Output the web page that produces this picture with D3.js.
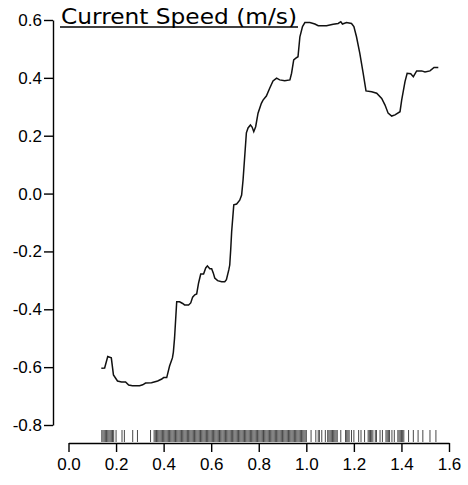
<!DOCTYPE html>
<html><head><meta charset="utf-8">
<script src="https://cdn.jsdelivr.net/npm/d3@7"></script>
<style>body{margin:0;background:#fff}</style></head>
<body><svg id="c" width="468" height="485"></svg>
<script>
const lineX=[.138,.152,.165,.180,.189,.206,.223,.240,.253,.269,.299,.312,.324,.349,.375,.392,.400,.413,.425,.437,.441,.446,.455,.467,.480,.488,.505,.514,.522,.531,.539,.547,.556,.568,.577,.584,.594,.602,.609,.615,.627,.644,.657,.664,.674,.678,.682,.686,.695,.707,.720,.728,.734,.748,.755,.765,.772,.779,.787,.797,.811,.818,.832,.846,.860,.875,.888,.909,.931,.938,.947,.956,.965,.973,.984,.994,1.015,1.036,1.050,1.085,1.113,1.134,1.145,1.152,1.169,1.190,1.200,1.211,1.225,1.239,1.251,1.275,1.296,1.317,1.331,1.344,1.359,1.373,1.394,1.401,1.415,1.424,1.439,1.450,1.464,1.485,1.499,1.520,1.537,1.555];
const lineY=[-.604,-.603,-.563,-.568,-.627,-.648,-.651,-.651,-.662,-.664,-.664,-.661,-.655,-.654,-.648,-.641,-.636,-.636,-.596,-.568,-.548,-.499,-.374,-.374,-.380,-.385,-.385,-.378,-.358,-.350,-.347,-.309,-.278,-.278,-.257,-.250,-.260,-.260,-.275,-.292,-.301,-.305,-.305,-.298,-.264,-.247,-.195,-.133,-.039,-.036,-.023,-.005,.047,.210,.227,.237,.230,.214,.231,.278,.312,.323,.337,.364,.389,.399,.393,.390,.393,.416,.462,.468,.473,.542,.577,.591,.591,.586,.580,.580,.585,.588,.594,.586,.591,.588,.577,.542,.485,.416,.355,.352,.347,.329,.306,.278,.268,.272,.283,.323,.387,.416,.414,.404,.424,.424,.420,.424,.436,.436];
const rugX=[.14,.145,.15,.155,.16,.165,.17,.175,.18,.185,.19,.2,.225,.235,.27,.29,.345,.36,.365,.37,.375,.38,.385,.39,.395,.40,.405,.41,.415,.42,.425,.43,.435,.44,.445,.45,.455,.46,.465,.47,.475,.48,.485,.49,.495,.50,.505,.51,.515,.52,.525,.53,.535,.54,.545,.55,.555,.56,.565,.57,.575,.58,.585,.59,.595,.60,.605,.61,.615,.62,.625,.63,.635,.64,.645,.65,.655,.66,.665,.67,.675,.68,.685,.69,.695,.70,.705,.71,.715,.72,.725,.73,.735,.74,.745,.75,.755,.76,.765,.77,.775,.78,.785,.79,.795,.80,.805,.81,.815,.82,.825,.83,.835,.84,.845,.85,.855,.86,.865,.87,.875,.88,.885,.89,.895,.90,.905,.91,.915,.92,.925,.93,.935,.94,.945,.95,.955,.96,.965,.97,.975,.98,.985,.99,.995,1.0,1.02,1.04,1.05,1.055,1.065,1.08,1.09,1.095,1.10,1.105,1.11,1.115,1.12,1.125,1.13,1.145,1.165,1.17,1.175,1.18,1.19,1.2,1.22,1.23,1.245,1.26,1.265,1.27,1.275,1.28,1.29,1.295,1.31,1.32,1.335,1.34,1.345,1.35,1.36,1.37,1.385,1.39,1.395,1.40,1.405,1.41,1.43,1.45,1.47,1.49,1.52,1.545];
const xTicks=[0,0.2,0.4,0.6,0.8,1.0,1.2,1.4,1.6];
const yTicks=[-0.8,-0.6,-0.4,-0.2,0,0.2,0.4,0.6];
const title="Current Speed (m/s)";

const svg=d3.select("#c");
const x=d3.scaleLinear().domain([0,1.6]).range([68.5,449]);
const y=d3.scaleLinear().domain([-0.8,0.6]).range([425,20]);
const font="Liberation Sans, Arial, sans-serif";
const fmt=d=>d3.format(".1f")(d).replace("−","-");

const ya=svg.append("g").attr("transform","translate(53,0)")
 .call(d3.axisLeft(y).tickValues(yTicks).tickFormat(fmt).tickSize(9).tickPadding(2).tickSizeOuter(0));
ya.selectAll("text").attr("font-family",font).attr("font-size",17).attr("fill","#000");
const xa=svg.append("g").attr("transform","translate(0,443)")
 .call(d3.axisBottom(x).tickValues(xTicks).tickFormat(fmt).tickSize(9).tickPadding(6).tickSizeOuter(0));
xa.selectAll("text").attr("font-family",font).attr("font-size",17).attr("fill","#000");
svg.selectAll(".domain,.tick line").attr("stroke","#000").attr("stroke-width",1.4);

svg.append("g").selectAll("line").data(rugX).join("line")
 .attr("x1",d=>x(d)).attr("x2",d=>x(d)).attr("y1",430).attr("y2",442)
 .attr("stroke","#333").attr("stroke-width",0.9);

svg.append("path").datum(lineX.map((v,i)=>[v,lineY[i]]))
 .attr("d",d3.line().x(d=>x(d[0])).y(d=>y(d[1])))
 .attr("fill","none").attr("stroke","#111").attr("stroke-width",1.5);

svg.append("text").attr("x",61).attr("y",24).attr("font-family","DejaVu Sans, Verdana, sans-serif")
 .attr("font-size",21).attr("textLength",236).attr("lengthAdjust","spacingAndGlyphs").attr("fill","#000").text(title);
svg.append("line").attr("x1",60).attr("x2",298).attr("y1",27).attr("y2",27).attr("stroke","#000").attr("stroke-width",1.3);
</script></body></html>
